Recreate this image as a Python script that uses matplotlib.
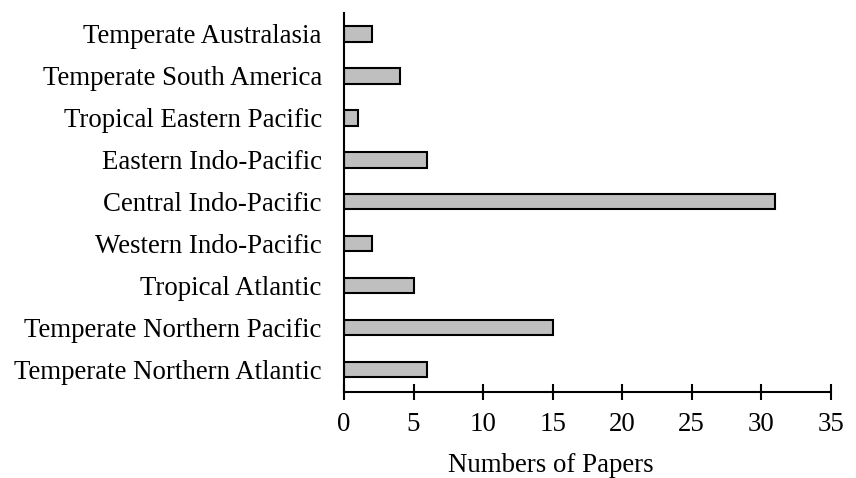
import matplotlib
matplotlib.use("Agg")
import matplotlib.pyplot as plt

# regiões (de baixo pra cima, igual ao gráfico)
regioes = [
    "Temperate Northern Atlantic",
    "Temperate Northern Pacific",
    "Tropical Atlantic",
    "Western Indo-Pacific",
    "Central Indo-Pacific",
    "Eastern Indo-Pacific",
    "Tropical Eastern Pacific",
    "Temperate South America",
    "Temperate Australasia",
]
num_artigos = [6, 15, 5, 2, 31, 6, 1, 4, 2]
ticks_x = [0, 5, 10, 15, 20, 25, 30, 35]

plt.rcParams["font.family"] = ["Liberation Serif", "DejaVu Serif"]
tam_fonte = 19.4

fig = plt.figure(figsize=(8.56, 4.78), dpi=100)
ax = fig.add_axes([0.4019, 0.1805, 0.5685, 0.7923])

ax.barh(range(len(regioes)), num_artigos, height=0.36,
        color="#bfbfbf", edgecolor="black", linewidth=1.5)

ax.set_xlim(0, 35)
ax.set_ylim(-0.52, 8.5)
ax.set_xticks(ticks_x)
ax.set_yticks(range(len(regioes)))
ax.set_yticklabels(regioes)

ax.spines["top"].set_visible(False)
ax.spines["right"].set_visible(False)
ax.spines["left"].set_linewidth(1.5)
ax.spines["bottom"].set_linewidth(1.5)

ax.tick_params(axis="y", length=0, pad=16, labelsize=tam_fonte)
ax.tick_params(axis="x", direction="inout", length=11, width=1.5,
               pad=9, labelsize=tam_fonte)

ax.set_xlabel("Numbers of Papers", fontsize=tam_fonte)
ax.xaxis.set_label_coords(0.425, -0.161)

fig.savefig("out.png", dpi=100)
